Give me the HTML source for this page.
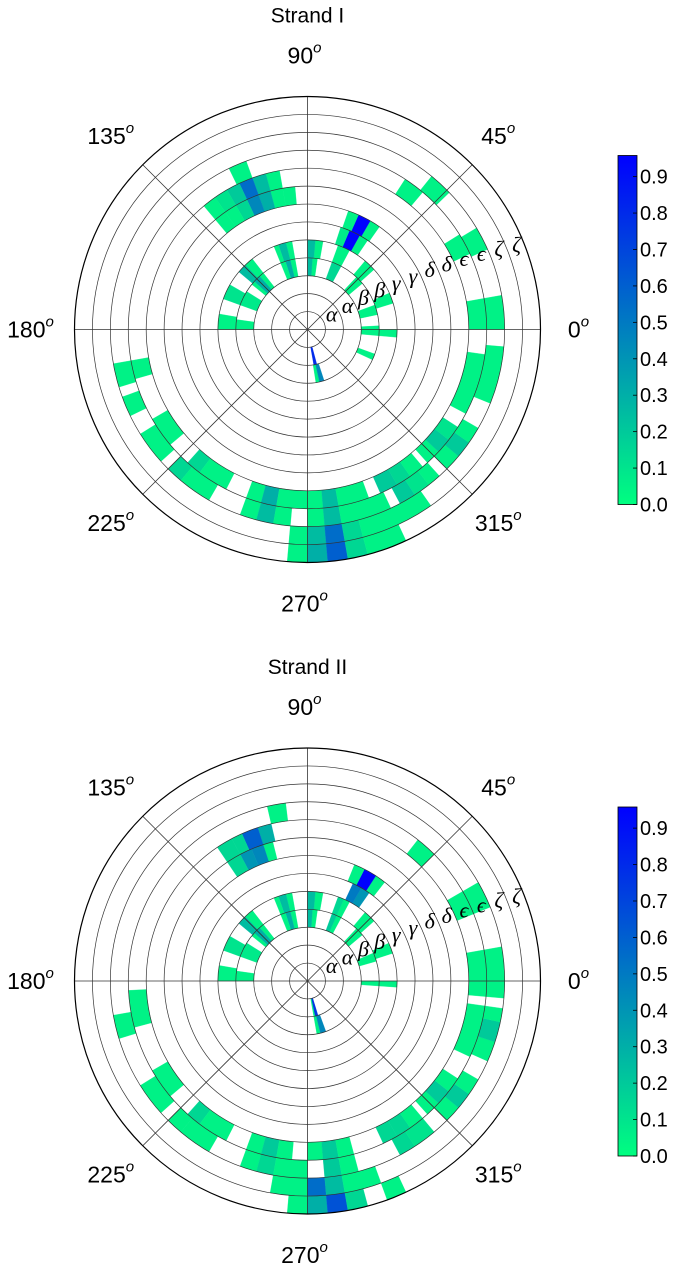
<!DOCTYPE html>
<html><head><meta charset="utf-8"><style>
html,body{margin:0;padding:0;background:#fff;}
svg{display:block;font-family:"Liberation Sans",sans-serif;}
</style></head><body>
<svg id="fig" width="678" height="1273" viewBox="0 0 678 1273" xmlns="http://www.w3.org/2000/svg">
<defs>
<linearGradient id="cmap" x1="0" y1="1" x2="0" y2="0">
<stop offset="0" stop-color="rgb(0,255,128)"/><stop offset="1" stop-color="rgb(0,0,255)"/>
</linearGradient>
</defs>
</svg>
<script>
// ---- Strand I data (ring index, start angle, end angle, value) ----
var ringsI = [1,2,2,3,3,3,3,3,3,3,3,3,3,3,3,3,3,3,4,4,4,4,4,4,4,4,4,4,4,4,4,5,5,5,6,6,6,7,7,7,7,7,7,7,8,8,8,8,8,8,9,9,10,9,10,9,10,9,10,9,9,9,10,10,10,9,9,9,10,10,10,9,9,10,10,9,10,9,10,10,9,9,9,9,9,9,10,10,10,10,10,10,11,11,11,11,11,12,12,12,12,12];
var startsI = [-80,-81,-77,-5,12,-25,40,62,82,86,100,104,108,128,132,138,148,172,-5,17,42,62,80,85,100,104,109,128,134,150,170,56,61,67,55,60,66,95,100,105,110,115,120,125,100,105,110,115,120,125,110,50,44,25,24,0,0,-28,-22,-48,-43,-38,-45,-40,-35,-66,-60,-55,-62,-57,-52,228,233,225,230,210,212,190,190,200,250,255,260,270,275,280,250,255,260,270,275,280,265,270,275,280,285,265,270,275,280,285];
var endsI = [-75,-77,-72,3,20,-20,47,70,86,90,104,108,112,132,138,141,160,180,0,24,50,70,85,90,104,109,112,134,140,160,180,61,67,72,60,66,71,100,105,110,115,120,125,130,105,110,115,120,125,130,116,57,51,32,31,10,10,-8,-5,-43,-38,-33,-40,-35,-30,-60,-55,-50,-57,-52,-48,233,243,230,240,220,222,196,197,206,255,260,270,275,280,290,255,260,265,275,280,295,270,275,280,285,305,270,275,280,285,295];
var valsI = [0.8,0.05,0.45,0.05,0.05,0.05,0.05,0.15,0.05,0.25,0.05,0.3,0.05,0.05,0.3,0.05,0.08,0.05,0.05,0.05,0.05,0.05,0.05,0.25,0.05,0.25,0.05,0.05,0.25,0.1,0.05,0.05,0.95,0.08,0.05,0.95,0.05,0.05,0.05,0.3,0.45,0.15,0.05,0.05,0.05,0.25,0.55,0.2,0.1,0.05,0.05,0.05,0.05,0.05,0.05,0.05,0.05,0.05,0.05,0.05,0.2,0.1,0.05,0.2,0.05,0.2,0.15,0.05,0.2,0.1,0.05,0.15,0.05,0.15,0.05,0.05,0.05,0.05,0.05,0.05,0.05,0.3,0.05,0.05,0.25,0.05,0.05,0.25,0.05,0.05,0.25,0.05,0.05,0.25,0.55,0.15,0.05,0.05,0.3,0.6,0.15,0.05];
// ---- Strand II data ----
var ringsII = [1,1,2,2,3,4,3,4,3,4,3,3,4,4,3,3,4,4,3,3,3,4,4,4,3,3,3,4,4,3,4,3,4,5,5,6,6,6,7,7,7,7,8,8,8,8,9,9,9,10,9,10,9,10,10,10,9,9,9,10,10,10,9,9,9,10,10,9,9,10,10,9,10,9,10,9,9,9,10,10,10,11,12,9,9,9,10,10,11,11,11,12,12,12,12];
var startsII = [-78,-80,-80,-76,-4,-4,16,18,40,42,62,66,62,66,82,86,80,85,100,104,108,100,104,109,128,132,138,128,134,148,150,172,170,55,60,52,57,63,104,108,113,118,103,108,114,118,97,45,22,22,-5,-5,-25,-24,-18,-12,-48,-43,-38,-45,-40,-35,-65,-60,-55,-62,-57,228,233,225,230,210,212,183,190,250,255,260,250,255,260,260,265,270,275,280,275,280,270,275,280,270,275,280,290];
var endsII = [-73,-78,-76,-70,0,0,23,25,47,50,66,70,66,70,86,90,85,90,104,108,112,104,109,112,132,138,141,134,140,160,160,180,180,60,65,57,63,68,108,113,118,124,108,114,118,124,103,52,30,30,10,10,-8,-18,-12,-8,-43,-38,-33,-40,-35,-30,-60,-55,-50,-57,-50,233,243,230,240,220,222,195,197,255,260,265,255,260,270,270,270,275,280,285,280,285,275,280,290,275,280,285,295];
var valsII = [0.75,0.05,0.05,0.45,0.05,0.05,0.05,0.05,0.05,0.05,0.05,0.2,0.05,0.15,0.05,0.25,0.05,0.25,0.05,0.3,0.05,0.05,0.25,0.05,0.05,0.3,0.05,0.05,0.25,0.08,0.1,0.05,0.05,0.4,0.5,0.05,0.95,0.05,0.05,0.45,0.4,0.15,0.3,0.6,0.15,0.15,0.05,0.05,0.05,0.05,0.05,0.05,0.05,0.05,0.2,0.05,0.05,0.2,0.05,0.05,0.2,0.05,0.15,0.15,0.05,0.15,0.1,0.15,0.05,0.05,0.05,0.05,0.05,0.05,0.05,0.05,0.2,0.05,0.05,0.15,0.05,0.05,0.05,0.05,0.2,0.05,0.2,0.05,0.55,0.25,0.05,0.3,0.65,0.15,0.05];
// ---- axis labels ----
var ringLabels = ["α","α","β","β","γ","γ","δ","δ","ϵ","ϵ","ζ","ζ"];
var angleTicks = [0,45,90,135,180,225,270,315];
var cbTicks = [0.0,0.1,0.2,0.3,0.4,0.5,0.6,0.7,0.8,0.9];
var titles = ["Strand I","Strand II"];

var NS = "http://www.w3.org/2000/svg";
var svg = document.getElementById('fig');
var VMAX = 0.958, NR = 13, R = 233;
function mk(tag, attrs, parent){var e=document.createElementNS(NS,tag);for(var k in attrs)e.setAttribute(k,attrs[k]);(parent||svg).appendChild(e);return e;}
function color(v){var t=Math.max(0,Math.min(1,v/VMAX));return 'rgb(0,'+Math.round(255*(1-t))+','+Math.round(127.5+127.5*t)+')';}
function rScale(k){return k*R/NR;}
function pt(cx,cy,r,a){var t=a*Math.PI/180;return [cx+r*Math.cos(t), cy-r*Math.sin(t)];}

function drawChart(idx, cx, cy, rings, starts, ends, vals){
  var g = mk('g',{});
  
  
  var t = mk('text',{x:cx,y:cy-307,'text-anchor':'middle','font-size':'21'},g);
  t.textContent = titles[idx];
  
  
  for (var i=0;i<rings.length;i++){
    var r0=rScale(rings[i]), r1=rScale(rings[i]+1), a0=starts[i], a1=ends[i];
    var p1=pt(cx,cy,r0,a0),p2=pt(cx,cy,r1,a0),p3=pt(cx,cy,r1,a1),p4=pt(cx,cy,r0,a1);
    var d='M'+p1+' L'+p2+' A'+r1+' '+r1+' 0 0 0 '+p3+' L'+p4+' A'+r0+' '+r0+' 0 0 1 '+p1+' Z';
    var c = mk('path',{d:d,fill:color(vals[i]),stroke:color(vals[i]),'stroke-width':'0.3'},g);
    
    
  }
  for (var k=1;k<NR;k++){
    var gc = mk('circle',{cx:cx,cy:cy,r:rScale(k),fill:'none',stroke:'#333','stroke-width':'0.7'},g);
    
    
  }
  for (var j=0;j<angleTicks.length;j++){
    var e=pt(cx,cy,R,angleTicks[j]);
    var ln = mk('line',{x1:cx,y1:cy,x2:e[0],y2:e[1],stroke:'#333','stroke-width':'0.8'},g);
    
    
    var lp=pt(cx,cy,R+41,angleTicks[j]);
    var tx = mk('text',{x:lp[0]-3,y:lp[1]+8,'text-anchor':'middle','font-size':'23'},g);
    tx.textContent = angleTicks[j];
    var sp = mk('tspan',{'font-size':'15','font-style':'italic',dy:'-11'},tx);
    sp.textContent='o';
    
    
  }
  var oc = mk('circle',{cx:cx,cy:cy,r:R,fill:'none',stroke:'#000','stroke-width':'1.2'},g);
  
  
  for (var m=0;m<ringLabels.length;m++){
    var rr = rScale(m+1)+10;
    var lp2 = pt(cx,cy,rr,30-m*0.75);
    var rl = mk('text',{x:lp2[0],y:lp2[1]+6,'text-anchor':'middle','font-size':'22','font-style':'italic','font-family':'"Liberation Serif","DejaVu Serif",serif'},g);
    rl.textContent = ringLabels[m];
    
    
  }
  // colorbar
  var cbx=618, cbTop=cy-174, cbBot=cy+175, cbh=cbBot-cbTop;
  var cb = mk('rect',{x:cbx,y:cbTop,width:19,height:cbh,fill:'url(#cmap)',stroke:'#000','stroke-width':'0.8'},g);
  
  
  for (var q=0;q<cbTicks.length;q++){
    var y = cbBot - cbTicks[q]/VMAX*cbh;
    mk('line',{x1:cbx+15,y1:y,x2:cbx+19,y2:y,stroke:'#000','stroke-width':'0.8'},g);
    var cl = mk('text',{x:cbx+22,y:y+7,'font-size':'20'},g);
    cl.textContent = cbTicks[q].toFixed(1);
    
    
  }
}
drawChart(0, 307.5, 329.5, ringsI, startsI, endsI, valsI);
drawChart(1, 307.5, 981, ringsII, startsII, endsII, valsII);
</script>
</body></html>
